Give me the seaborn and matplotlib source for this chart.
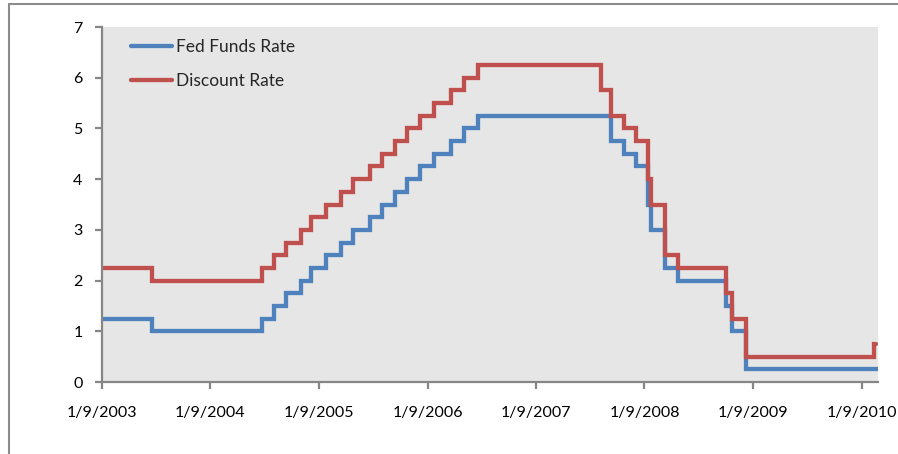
import pandas as pd
import seaborn as sns
import matplotlib.pyplot as plt
import matplotlib.dates as mdates
from matplotlib.lines import Line2D

# datas das mudanças de taxa (valor vale até a próxima data)
fed_datas = ['2003-01-09', '2003-06-25', '2004-06-30', '2004-08-10', '2004-09-21',
             '2004-11-10', '2004-12-14', '2005-02-02', '2005-03-22', '2005-05-03',
             '2005-06-30', '2005-08-09', '2005-09-20', '2005-11-01', '2005-12-13',
             '2006-01-31', '2006-03-28', '2006-05-10', '2006-06-29', '2007-09-18',
             '2007-10-31', '2007-12-11', '2008-01-22', '2008-01-30', '2008-03-18',
             '2008-04-30', '2008-10-08', '2008-10-29', '2008-12-16', '2010-03-05']
fed_taxa = [1.25, 1.00, 1.25, 1.50, 1.75, 2.00, 2.25, 2.50, 2.75, 3.00,
            3.25, 3.50, 3.75, 4.00, 4.25, 4.50, 4.75, 5.00, 5.25, 4.75,
            4.50, 4.25, 3.50, 3.00, 2.25, 2.00, 1.50, 1.00, 0.25, 0.25]

desc_datas = ['2003-01-09', '2003-06-25', '2004-06-30', '2004-08-10', '2004-09-21',
              '2004-11-10', '2004-12-14', '2005-02-02', '2005-03-22', '2005-05-03',
              '2005-06-30', '2005-08-09', '2005-09-20', '2005-11-01', '2005-12-13',
              '2006-01-31', '2006-03-28', '2006-05-10', '2006-06-29', '2007-08-17',
              '2007-09-18', '2007-10-31', '2007-12-11', '2008-01-22', '2008-01-30',
              '2008-03-18', '2008-04-30', '2008-10-08', '2008-10-29', '2008-12-16',
              '2010-02-19', '2010-02-25']
desc_taxa = [2.25, 2.00, 2.25, 2.50, 2.75, 3.00, 3.25, 3.50, 3.75, 4.00,
             4.25, 4.50, 4.75, 5.00, 5.25, 5.50, 5.75, 6.00, 6.25, 5.75,
             5.25, 5.00, 4.75, 4.00, 3.50, 2.50, 2.25, 1.75, 1.25, 0.50,
             0.75, 0.75]

ticks_x = pd.date_range('2003-01-09', periods=8, freq=pd.DateOffset(years=1))

df_fed = pd.DataFrame({'Data': pd.to_datetime(fed_datas), 'Taxa': fed_taxa})
df_desc = pd.DataFrame({'Data': pd.to_datetime(desc_datas), 'Taxa': desc_taxa})


def formata_data(v, pos):
    d = mdates.num2date(v)
    return f'{d.month}/{d.day}/{d.year}'


# %% DATAVIZ
sns.set_style("white")
plt.rcParams['font.family'] = ['Lato', 'DejaVu Sans']

cor_eixo = '#868686'
azul = '#4F81BD'
vermelho = '#C0504D'

fig = plt.figure(figsize=(8.98, 4.54), dpi=100)
ax = fig.add_axes([102 / 898, 72 / 454, 776 / 898, 355 / 454])
ax.set_facecolor('#E6E6E6')

sns.lineplot(data=df_fed, x='Data', y='Taxa', ax=ax, color=azul, linewidth=3.1,
             drawstyle='steps-post', estimator=None, solid_joinstyle='miter')
sns.lineplot(data=df_desc, x='Data', y='Taxa', ax=ax, color=vermelho, linewidth=3.1,
             drawstyle='steps-post', estimator=None, solid_joinstyle='miter')

ax.set_xlim(pd.Timestamp('2003-01-09'), pd.Timestamp('2010-03-05'))
ax.set_ylim(0, 7)
ax.set_yticks(range(0, 8))
ax.set_xticks(ticks_x)
ax.xaxis.set_major_formatter(plt.FuncFormatter(formata_data))
ax.set_xlabel('')
ax.set_ylabel('')

for lado in ['top', 'right']:
    ax.spines[lado].set_visible(False)
for lado in ['left', 'bottom']:
    ax.spines[lado].set_color(cor_eixo)
    ax.spines[lado].set_linewidth(1.6)
ax.tick_params(axis='both', colors=cor_eixo, width=1.6, length=5, labelsize=11.5,
               labelcolor='black', direction='out')
ax.tick_params(axis='y', pad=9, left=True)
ax.tick_params(axis='x', pad=12.5, bottom=True)

handles = [Line2D([], [], color=azul, linewidth=3.1), Line2D([], [], color=vermelho, linewidth=3.1)]
ax.legend(handles, ['Fed Funds Rate', 'Discount Rate'], loc='upper left',
          bbox_to_anchor=(0.037, 0.966), frameon=False, fontsize=12.5,
          borderpad=0, borderaxespad=0, labelspacing=1.05, handlelength=2.35,
          handletextpad=0.25)

# moldura externa do gráfico
fig.add_artist(Line2D([9 / 898, 9 / 898], [0, 1 - 4 / 454], transform=fig.transFigure,
                      color='#8C8C8C', linewidth=1.5))
fig.add_artist(Line2D([9 / 898, 1], [1 - 4 / 454, 1 - 4 / 454], transform=fig.transFigure,
                      color='#8C8C8C', linewidth=1.5))

plt.savefig('out.png', dpi=100)
